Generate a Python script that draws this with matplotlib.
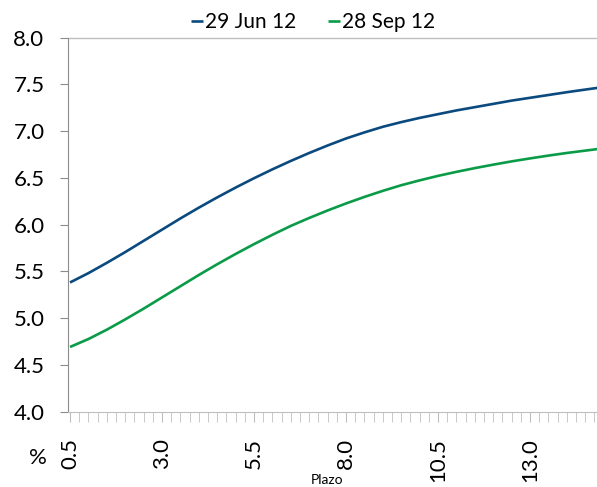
import matplotlib
matplotlib.use("Agg")
import matplotlib.pyplot as plt
import numpy as np

plt.rcParams['font.family'] = ['Lato', 'DejaVu Sans']

plazo = [0.5, 1.0, 1.5, 2.0, 2.5, 3.0, 3.5, 4.0, 4.5, 5.0, 5.5, 6.0, 6.5, 7.0, 7.5,
         8.0, 8.5, 9.0, 9.5, 10.0, 10.5, 11.0, 11.5, 12.0, 12.5, 13.0, 13.5, 14.0, 14.5, 15.0]
jun12 = [5.38, 5.48, 5.59, 5.705, 5.825, 5.945, 6.065, 6.18, 6.29, 6.395, 6.495, 6.59, 6.68,
         6.765, 6.845, 6.92, 6.985, 7.045, 7.095, 7.14, 7.18, 7.22, 7.255, 7.29, 7.325, 7.355,
         7.385, 7.415, 7.443, 7.47]
sep12 = [4.69, 4.775, 4.875, 4.985, 5.10, 5.22, 5.34, 5.46, 5.575, 5.685, 5.79, 5.89, 5.985,
         6.07, 6.15, 6.225, 6.295, 6.36, 6.42, 6.472, 6.52, 6.563, 6.603, 6.64, 6.675, 6.707,
         6.737, 6.765, 6.79, 6.815]
labels = ['29 Jun 12', '28 Sep 12']
colors = ['#0B4A7F', '#0A9B48']
xticks = [0.5, 3.0, 5.5, 8.0, 10.5, 13.0]
yticks = [4.0, 4.5, 5.0, 5.5, 6.0, 6.5, 7.0, 7.5, 8.0]

fig = plt.figure(figsize=(5.97, 4.87), dpi=100)
ax = fig.add_axes([68/597, 75.5/487, (597-68)/597, 374/487])

ax.plot(plazo, jun12, color=colors[0], lw=1.9, label=labels[0], solid_capstyle='butt')
ax.plot(plazo, sep12, color=colors[1], lw=1.9, label=labels[1], solid_capstyle='butt')

ax.set_xlim(0.445, 14.82)
ax.set_ylim(4.0, 8.0)

gray = '#8C8C8C'
for s in ['top', 'right']:
    ax.spines[s].set_visible(False)
ax.spines['left'].set_color(gray)
ax.spines['bottom'].set_color('#BFBFBF')
ax.axhline(8.0, color='#BFBFBF', lw=1.0, clip_on=False)

ax.set_yticks(yticks)
ax.set_yticklabels([f'{v:.1f}' for v in yticks], fontsize=16)
ax.set_xticks(xticks)
ax.set_xticklabels([f'{v:.1f}' for v in xticks], fontsize=16, rotation=90)
ax.set_xticks(np.arange(0.5, 14.9, 0.25), minor=True)
ax.tick_params(axis='y', length=6, color=gray, pad=11)
ax.tick_params(axis='x', which='both', length=7, color='#BFBFBF', pad=12, direction='out')

fig.text(38/597, 1-458/487, '%', fontsize=16, ha='center', va='center')
fig.text(327/597, 1-480/487, 'Plazo', fontsize=10, ha='center', va='center')

leg = fig.legend(loc='center', bbox_to_anchor=(313/597, 1-22/487), ncol=2, frameon=False,
                 fontsize=15, handlelength=0.6, handletextpad=0.1, columnspacing=1.5,
                 borderaxespad=0)

fig.savefig('out.png', dpi=100)
